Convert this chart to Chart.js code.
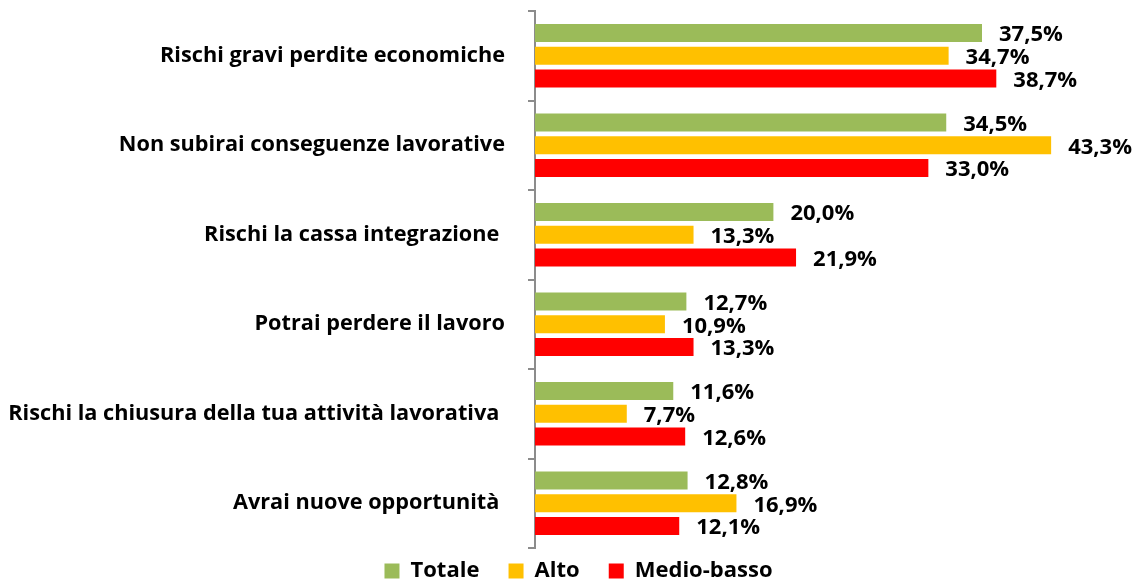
<!DOCTYPE html>
<html>
<head>
<meta charset="utf-8">
<script src="https://cdn.jsdelivr.net/npm/chart.js@4"></script>
<style>
  html, body { margin: 0; padding: 0; background: #fff; }
  #wrap { width: 1136px; height: 580px; }
</style>
</head>
<body>
<div id="wrap"><canvas id="chart-area"></canvas></div>
<script>
var categories = [
  'Rischi gravi perdite economiche',
  'Non subirai conseguenze lavorative',
  'Rischi la cassa integrazione ',
  'Potrai perdere il lavoro',
  'Rischi la chiusura della tua attività lavorativa ',
  'Avrai nuove opportunità '
]
var totale = [37.5, 34.5, 20.0, 12.7, 11.6, 12.8]
var alto = [34.7, 43.3, 13.3, 10.9, 7.7, 16.9]
var medioBasso = [38.7, 33.0, 21.9, 13.3, 12.6, 12.1]

var FONT = '"Open Sans", Lato, sans-serif'

// value labels at the end of each bar
var barLabels = {
  id: 'barLabels',
  afterDatasetsDraw: function (chart) {
    var ctx = chart.ctx
    ctx.save()
    ctx.font = 'bold 22px ' + FONT
    ctx.fillStyle = '#000'
    ctx.textAlign = 'left'
    ctx.textBaseline = 'middle'
    chart.data.datasets.forEach(function (ds, i) {
      var meta = chart.getDatasetMeta(i)
      meta.data.forEach(function (bar, j) {
        var txt = ds.data[j].toFixed(1).replace('.', ',') + '%'
        ctx.fillText(txt, bar.x + 17, bar.y + 2)
      })
    })
    ctx.restore()
  }
}

var config = {
  type: 'bar',
  data: {
    labels: categories,
    datasets: [
      { label: 'Totale', data: totale, backgroundColor: '#9BBB59' },
      { label: 'Alto', data: alto, backgroundColor: '#FFC000' },
      { label: 'Medio-basso', data: medioBasso, backgroundColor: '#FF0000' }
    ]
  },
  options: {
    indexAxis: 'y',
    responsive: true,
    maintainAspectRatio: false,
    animation: false,
    datasets: {
      bar: { categoryPercentage: 0.76, barPercentage: 0.79 }
    },
    layout: { padding: { top: 11, left: 26, right: 5, bottom: -12 } },
    scales: {
      x: { display: false, min: 0, max: 50 },
      y: {
        afterFit: function (scale) {
          scale.width = 509
          scale.paddingTop = 0
          scale.paddingBottom = 0
          // let the long label run past the left padding
          scale._computeLabelArea = function () {}
        },
        border: { display: true, color: '#8c8c8c', width: 2 },
        grid: {
          offset: true,
          drawOnChartArea: false,
          drawTicks: true,
          tickLength: 7,
          color: '#8c8c8c',
          lineWidth: 2
        },
        ticks: {
          padding: 23,
          color: '#000',
          font: { family: FONT, size: 21.7, weight: 'bold' }
        }
      }
    },
    plugins: {
      legend: {
        position: 'bottom',
        labels: {
          boxWidth: 15,
          boxHeight: 15,
          padding: 12,
          color: '#000',
          font: { family: FONT, size: 22, weight: 'bold' },
          generateLabels: function (chart) {
            var items = Chart.defaults.plugins.legend.labels.generateLabels(chart)
            items.forEach(function (it, i) {
              if (i < items.length - 1) it.text = it.text + '   '
            })
            return items
          }
        }
      },
      tooltip: { enabled: false }
    }
  },
  plugins: [barLabels]
}

window.onload = function () {
  var ctx = document.getElementById('chart-area').getContext('2d')
  window.myBar = new Chart(ctx, config)
}
</script>
</body>
</html>
